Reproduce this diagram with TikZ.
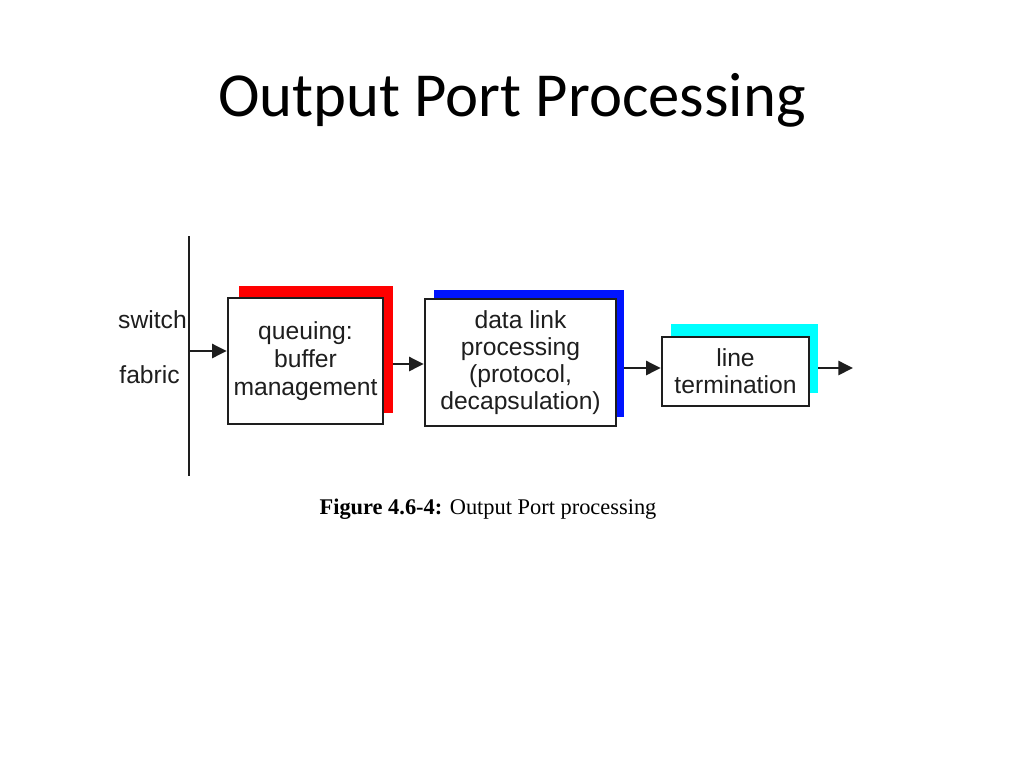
\documentclass[tikz,border=0pt]{standalone}
\usepackage{fontspec}
\setmainfont{Liberation Sans}
\newfontfamily\titlefont{Carlito}
\newfontfamily\capfont{Liberation Serif}
\usetikzlibrary{arrows.meta}
\definecolor{shred}{RGB}{255,0,0}
\definecolor{shblue}{RGB}{0,20,255}
\definecolor{shcyan}{RGB}{0,255,255}
\definecolor{ink}{RGB}{30,30,30}
\tikzset{
  boxnode/.style={draw=ink, line width=1.9pt, fill=white, minimum width=#1, inner sep=0pt, align=center, text=ink, font=\fontsize{18.5}{20.5}\selectfont},
  shadownode/.style={fill=#1, draw=none, inner sep=0pt},
  flow/.style={draw=ink, line width=1.9pt, -{Triangle[length=11pt,width=10.5pt]}},
  lbl/.style={font=\fontsize{18.5}{21}\selectfont, text=ink, inner sep=0pt}
}
\begin{document}
\begin{tikzpicture}[x=0.75pt,y=-0.75pt]
\useasboundingbox[fill=white] (0,0) rectangle (1024,768);
\node[font=\titlefont\fontsize{47}{50}\selectfont, inner sep=0pt] (title) at (512,100) {Output Port Processing};
% fabric line
\coordinate (ftop) at (189,236);
\coordinate (fbot) at (189,476);
\draw[draw=ink, line width=1.9pt] (ftop) -- (fbot);
\node[lbl, anchor=east] (sw) at (187,320) {switch};
\node[lbl, anchor=east] (fa) at (180,375) {fabric};
% shadows
\node[shadownode=shred, minimum width=115.5pt, minimum height=95.25pt] (s1) at (316,349.5) {};
\node[shadownode=shblue, minimum width=142.5pt, minimum height=95.25pt] (s2) at (529,353.5) {};
\node[shadownode=shcyan, minimum width=110.25pt, minimum height=51.75pt] (s3) at (744.5,358.5) {};
% boxes
\node[boxnode=116.25pt, minimum height=94.5pt, font=\fontsize{18.5}{21.2}\selectfont] (b1) at (305.5,361) {queuing:\\buffer\\management};
\node[boxnode=143.25pt, minimum height=95.25pt, font=\fontsize{18.5}{20.4}\selectfont] (b2) at (520.5,362.5) {data link\\processing\\(protocol,\\decapsulation)};
\node[boxnode=110.25pt, minimum height=51.75pt] (b3) at (735.5,371.5) {line\\termination};
% arrows
\coordinate (fa1) at (189,351);
\draw[flow] (fa1) -- (b1.west |- fa1);
\coordinate (a12) at (393,364);
\draw[flow] (a12) -- (b2.west |- a12);
\coordinate (a23) at (624,368);
\draw[flow] (a23) -- (b3.west |- a23);
\coordinate (a3s) at (818,368);
\coordinate (out) at (853,368);
\draw[flow] (a3s) -- (out);
% caption
\node[font=\capfont\fontsize{16.8}{18}\selectfont, inner sep=0pt] (cap) at (488,509) {\textbf{Figure 4.6-4:} Output Port processing};
\end{tikzpicture}
\end{document}
